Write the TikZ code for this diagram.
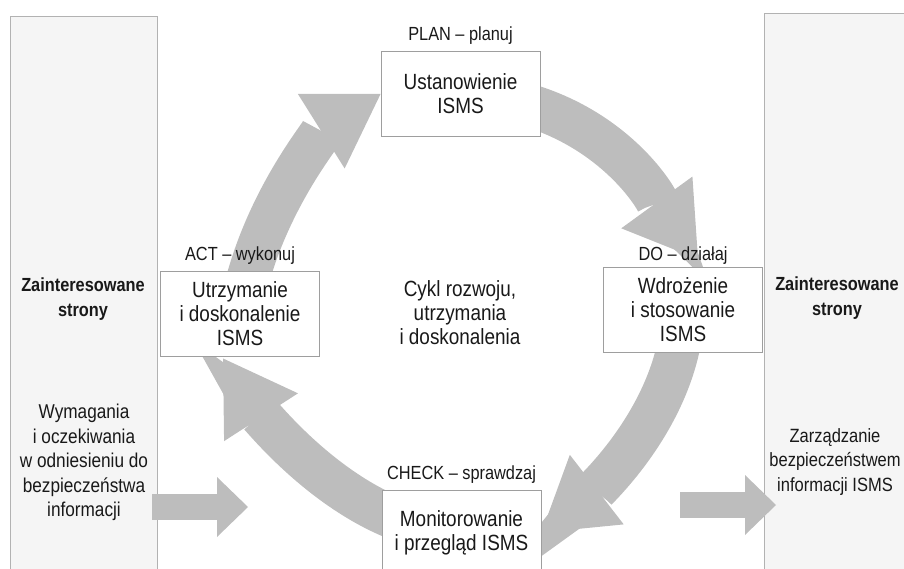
\documentclass[tikz,border=0pt]{standalone}
\usepackage{fontspec}
\setmainfont{Liberation Sans}[FakeStretch=0.86]
\usepackage{tikz}
\usetikzlibrary{arrows.meta,positioning,calc,backgrounds}

\definecolor{bandgray}{gray}{0.74}
\definecolor{panelfill}{gray}{0.96}
\definecolor{panelline}{gray}{0.7}
\definecolor{boxline}{gray}{0.62}
\definecolor{ink}{gray}{0.1}

\begin{document}
\begin{tikzpicture}[x=1pt, y=-1pt,
	box/.style={draw=boxline, line width=0.9pt, fill=white, minimum width=159pt, minimum height=85pt, inner sep=0pt, align=center, text=ink, font=\fontsize{22}{24}\selectfont},
	phase/.style={inner sep=0pt, text=ink, font=\fontsize{19}{22}\selectfont},
	panel/.style={draw=panelline, line width=0.7pt, fill=panelfill, anchor=north west, inner sep=0pt},
	side/.style={align=center, inner sep=0pt, text=ink, font=\fontsize{20}{24.5}\selectfont},
	party/.style={side, font=\bfseries\fontsize{19}{24.5}\selectfont},
	cyc/.style={draw=bandgray, line width=43pt, -{Triangle[length=70pt, width=88pt, line width=0pt]}},
	flow/.style={draw=bandgray, line width=26pt, -{Triangle[length=31pt, width=60pt, line width=0pt]}}]
	\useasboundingbox (0,0) rectangle (904,569);
	% side panels
	\begin{scope}[on background layer]
		\node[panel, minimum width=147pt, minimum height=600pt] (lpanel) at (10,16) {};
		\node[panel, minimum width=170pt, minimum height=600pt] (rpanel) at (764,13) {};
	\end{scope}
%
	\node[box] (plan) at (460.5,94) {Ustanowienie\\ISMS};
	\node[box] (act) at (240,313.5) {Utrzymanie\\i doskonalenie\\ISMS};
	\node[box] (do) at (683,310) {Wdrożenie\\i stosowanie\\ISMS};
	\node[box] (check) at (461.5,532.5) {Monitorowanie\\i przegląd ISMS};
	\node[phase, above=6pt of plan] (planlbl) {PLAN – planuj};
	\node[phase, above=6pt of act] (actlbl) {ACT – wykonuj};
	\node[phase, above=2pt of do] (dolbl) {DO – działaj};
	\node[phase, above=6pt of check] (checklbl) {CHECK – sprawdzaj};
	\node[side, font=\fontsize{22}{24}\selectfont] (cycle) at (460,313) {Cykl rozwoju,\\utrzymania\\i doskonalenia};
%
	\node[party] (lstake) at (83,299) {Zainteresowane\\strony};
	\node[side] (lneeds) at (84,462.5) {Wymagania\\i oczekiwania\\w odniesieniu do\\bezpieczeństwa\\informacji};
	\node[party] (rstake) at (837,298) {Zainteresowane\\strony};
	\node[side, font=\fontsize{19.2}{24.5}\selectfont] (rmanage) at (835,462) {Zarządzanie\\bezpieczeństwem\\informacji ISMS};
	\coordinate (needs) at (152,507);
	\coordinate (needsend) at (248,507);
	\coordinate (result) at (680,505);
	\coordinate (resultend) at (776,505);
	% PDCA arrows
	\begin{scope}[on background layer]
		\draw[cyc] (act.center) .. controls +(19,-110) and +(-51,32) .. (plan.west);
		\draw[cyc] (plan.center) .. controls +(150,6) and +(-32,-44) .. ($(do.north)+(15,-8)$);
		\draw[cyc] (do.center) .. controls +(-3,110) and +(40,-31) .. (check.east);
		\draw[cyc] (check.center) .. controls +(-120,-2) and +(22,34) .. ($(act.south)+(-17,2)$);
		\draw[flow] (needs) -- (needsend);
		\draw[flow] (result) -- (resultend);
	\end{scope}
\end{tikzpicture}
\end{document}
